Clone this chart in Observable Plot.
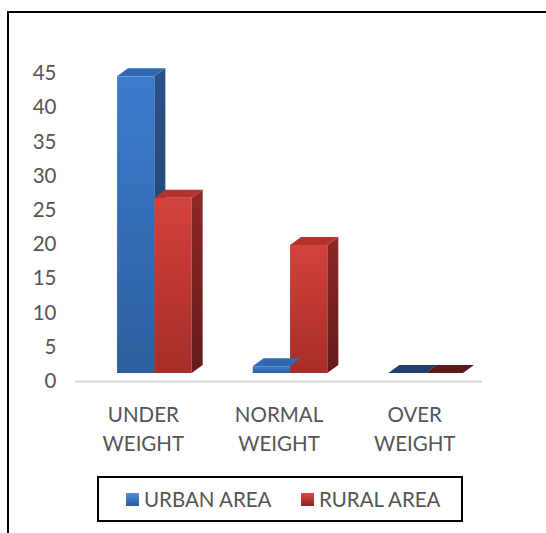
<!DOCTYPE html>
<html>
<head>
<meta charset="utf-8">
<script src="https://cdn.jsdelivr.net/npm/d3@7"></script>
<script src="https://cdn.jsdelivr.net/npm/@observablehq/plot@0.6"></script>
<style>
  html, body { margin: 0; padding: 0; background: #fff; }
  #wrap { position: relative; width: 546px; height: 533px; overflow: hidden; font-family: Lato, "Open Sans", sans-serif; }
  #frame { position: absolute; left: 7px; top: 11px; right: -4px; bottom: -4px; border-top: 2px solid #000; border-left: 2px solid #000; }
  #chart { position: absolute; left: 0; top: 0; }
  #legend { position: absolute; left: 97px; top: 476px; width: 366px; height: 46px; box-sizing: border-box; border: 2px solid #000; }
  .item { position: absolute; top: 0; height: 42px; display: flex; align-items: center; font-size: 20.5px; color: #555; }
  .sw { width: 13px; height: 13px; margin-right: 5px; }
</style>
</head>
<body>
<div id="wrap">
  <div id="frame"></div>
  <div id="chart"></div>
  <div id="legend"></div>
</div>
<script>
// ---- data ----
const categories = ["UNDER WEIGHT", "NORMAL WEIGHT", "OVER WEIGHT"];
const tickLabels = ["UNDER\nWEIGHT", "NORMAL\nWEIGHT", "OVER\nWEIGHT"];
const series = ["URBAN AREA", "RURAL AREA"];
const urban = [44, 1, 0];
const rural = [26, 19, 0];
const yTicks = [0, 5, 10, 15, 20, 25, 30, 35, 40, 45];

// ---- style / layout ----
const W = 546, H = 470;
const mL = 75, mR = 64, mT = 73, mB = 89;
const ux = 3 / (W - mL - mR);      // data units per px (x)
const uy = 45 / (H - mT - mB);     // data units per px (y)
const depthX = 11 * ux, depthY = 8 * uy;
const K = 0.985;                   // perspective shrink at bar plane
const barOff = 0.31, barW = 0.275;
const palette = {
  "URBAN AREA": {front: "url(#gBlue)", side: "url(#gBlueSide)", top: "#3167ae", flat: "#203f6c"},
  "RURAL AREA": {front: "url(#gRed)", side: "url(#gRedSide)", top: "#b4322e", flat: "#5c1b17"}
};

const values = [urban, rural];
const bars = [];
categories.forEach((c, i) => {
  series.forEach((s, j) => {
    const v = values[j][i];
    const x1 = i + barOff + j * barW, x2 = x1 + barW;
    bars.push({cat: c, series: s, v, x1, x2, top: v * K, id: c + "|" + s});
  });
});

const sidePts = [], topPts = [], shadowPts = [];
bars.forEach(b => {
  sidePts.push({id: b.id, s: b.series, x: b.x2, y1: 0, y2: b.top});
  sidePts.push({id: b.id, s: b.series, x: b.x2 + depthX, y1: depthY, y2: b.top + depthY});
  const tc = b.v > 0 ? palette[b.series].top : palette[b.series].flat;
  topPts.push({id: b.id, c: tc, x: b.x1, y1: b.top, y2: b.top});
  topPts.push({id: b.id, c: tc, x: b.x1 + depthX, y1: b.top, y2: b.top + depthY});
  topPts.push({id: b.id, c: tc, x: b.x2, y1: b.top, y2: b.top + depthY});
  topPts.push({id: b.id, c: tc, x: b.x2 + depthX, y1: b.top + depthY, y2: b.top + depthY});
});
categories.forEach((c, i) => {
  const fl = i + barOff - 10 * ux, fr = i + barOff + 2 * barW;
  const bl = fl + depthX, br = fr + depthX + 10 * ux;
  shadowPts.push({id: c, x: fl, y1: -0.25, y2: -0.25});
  shadowPts.push({id: c, x: bl, y1: -0.25, y2: depthY + 0.2});
  shadowPts.push({id: c, x: fr, y1: -0.25, y2: depthY + 0.2});
  shadowPts.push({id: c, x: br, y1: depthY + 0.2, y2: depthY + 0.2});
});
const labelData = categories.map((c, i) => ({cat: c, label: tickLabels[i], x: i + 0.5}));

const marks = [
  Plot.ruleY([0], {stroke: "#d6d6d6", strokeWidth: 2}),
  Plot.area(shadowPts, {x1: "x", y1: "y1", y2: "y2", z: "id", fill: "#666", fillOpacity: 0.75, dy: -7, ariaLabel: "shadow"})
];
series.forEach(s => {
  const bs = bars.filter(b => b.series === s);
  marks.push(Plot.rect(bs, {x1: "x1", x2: "x2", y1: 0, y2: "top", fill: palette[s].front, dy: -8}));
  marks.push(Plot.area(sidePts.filter(p => p.s === s), {x1: "x", y1: "y1", y2: "y2", z: "id", fill: palette[s].side, dy: -8}));
});
marks.push(Plot.area(topPts, {x1: "x", y1: "y1", y2: "y2", z: "id", fill: "c", dy: -8}));
marks.push(Plot.axisY(yTicks, {tickSize: 0, tickPadding: 19, label: null, fontSize: 20.5}));
marks.push(Plot.text(labelData, {x: "x", y: 0, text: "label", dy: 46, lineHeight: 1.42, fontSize: 20.5, fill: "#555", lineAnchor: "middle"}));

const svg = Plot.plot({
  width: W, height: H,
  marginLeft: mL, marginRight: mR, marginTop: mT, marginBottom: mB,
  x: {domain: [0, 3], axis: null},
  y: {domain: [0, 45], axis: null},
  color: {type: "identity"},
  style: {fontFamily: "Lato, 'Open Sans', sans-serif", fontSize: "20.5px", color: "#555", background: "transparent", overflow: "visible"},
  marks
});

d3.select(svg).insert("defs", ":first-child").html(`
  <linearGradient id="gBlue" x1="0" y1="0" x2="0" y2="1">
    <stop offset="0" stop-color="#3c7dcf"/><stop offset="1" stop-color="#2d5e9e"/>
  </linearGradient>
  <linearGradient id="gBlueSide" x1="0" y1="0" x2="0" y2="1">
    <stop offset="0" stop-color="#2a528a"/><stop offset="1" stop-color="#1f3d68"/>
  </linearGradient>
  <linearGradient id="gRed" x1="0" y1="0" x2="0" y2="1">
    <stop offset="0" stop-color="#d3423d"/><stop offset="1" stop-color="#a62d29"/>
  </linearGradient>
  <linearGradient id="gRedSide" x1="0" y1="0" x2="0" y2="1">
    <stop offset="0" stop-color="#8e2927"/><stop offset="1" stop-color="#651b19"/>
  </linearGradient>
  <filter id="blur" x="-30%" y="-200%" width="160%" height="500%"><feGaussianBlur stdDeviation="2.2"/></filter>
`);
d3.select(svg).selectAll('g[aria-label="shadow"]').attr("filter", "url(#blur)");
document.getElementById("chart").appendChild(svg);

// ---- legend ----
const legend = d3.select("#legend");
const swGrad = {"URBAN AREA": "linear-gradient(#4d8fe2, #2a5896)", "RURAL AREA": "linear-gradient(#dc4a43, #8a2320)"};
const legendX = [27, 202];
series.forEach((s, j) => {
  const it = legend.append("div").attr("class", "item").style("left", legendX[j] + "px");
  it.append("div").attr("class", "sw").style("background", swGrad[s]);
  it.append("span").text(s);
});
</script>
</body>
</html>
